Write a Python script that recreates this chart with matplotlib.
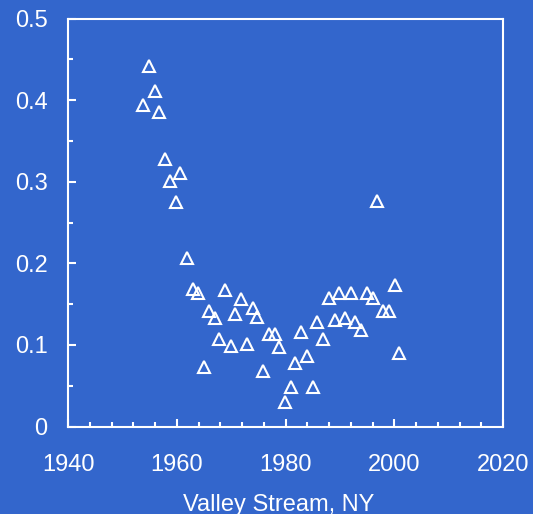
import matplotlib
matplotlib.use("Agg")
import matplotlib.pyplot as plt
from matplotlib.ticker import MultipleLocator, FuncFormatter

years = [1953.8, 1954.9, 1956.0, 1956.7, 1957.8, 1958.8, 1959.9, 1960.6, 1961.9, 1962.9,
         1963.8, 1964.9, 1965.9, 1967.0, 1967.7, 1968.9, 1970.0, 1970.7, 1971.8, 1972.9,
         1973.9, 1974.8, 1975.8, 1976.9, 1978.0, 1978.8, 1979.9, 1981.0, 1981.7, 1982.8,
         1984.0, 1985.0, 1985.7, 1986.8, 1987.9, 1989.0, 1989.8, 1990.9, 1992.0, 1992.8,
         1993.8, 1994.9, 1996.0, 1996.8, 1997.9, 1999.0, 2000.1, 2000.8]
values = [0.394, 0.442, 0.411, 0.385, 0.328, 0.301, 0.275, 0.311, 0.207, 0.169,
          0.164, 0.073, 0.142, 0.133, 0.107, 0.167, 0.099, 0.138, 0.156, 0.101,
          0.145, 0.134, 0.068, 0.114, 0.114, 0.097, 0.030, 0.049, 0.078, 0.116,
          0.087, 0.049, 0.128, 0.107, 0.157, 0.131, 0.164, 0.133, 0.164, 0.128,
          0.118, 0.164, 0.157, 0.277, 0.142, 0.142, 0.174, 0.090]
xlabel = "Valley Stream, NY"

bg = "#3366CC"
plt.rcParams['font.family'] = ['Liberation Sans', 'DejaVu Sans']

fig = plt.figure(figsize=(5.33, 5.14), dpi=100, facecolor=bg)
ax = fig.add_axes([0.128, 0.170, 0.816, 0.794])
ax.set_facecolor(bg)

ax.plot(years, values, linestyle='none', marker='^', markersize=8.5,
        markerfacecolor='none', markeredgecolor='white', markeredgewidth=1.5)

ax.set_xlim(1940, 2020)
ax.set_ylim(0, 0.5)
ax.xaxis.set_major_locator(MultipleLocator(20))
ax.xaxis.set_minor_locator(MultipleLocator(4))
ax.yaxis.set_major_locator(MultipleLocator(0.1))
ax.yaxis.set_minor_locator(MultipleLocator(0.05))
ax.yaxis.set_major_formatter(FuncFormatter(lambda v, p: "0" if abs(v) < 1e-9 else f"{v:.1f}"))

for s in ax.spines.values():
    s.set_color('white')
    s.set_linewidth(1.5)

ax.tick_params(which='both', direction='in', colors='white', width=1.5)
ax.tick_params(which='major', length=5.5)
ax.tick_params(which='minor', length=3.5)
ax.tick_params(axis='x', which='major', pad=20, labelsize=17, labelcolor='white')
ax.tick_params(axis='y', which='major', pad=15, labelsize=17, labelcolor='white')

fig.text(279 / 533, 1 - 494 / 514, xlabel, ha='center', va='top', color='white', fontsize=17)

fig.savefig("out.png", dpi=100, facecolor=bg)
